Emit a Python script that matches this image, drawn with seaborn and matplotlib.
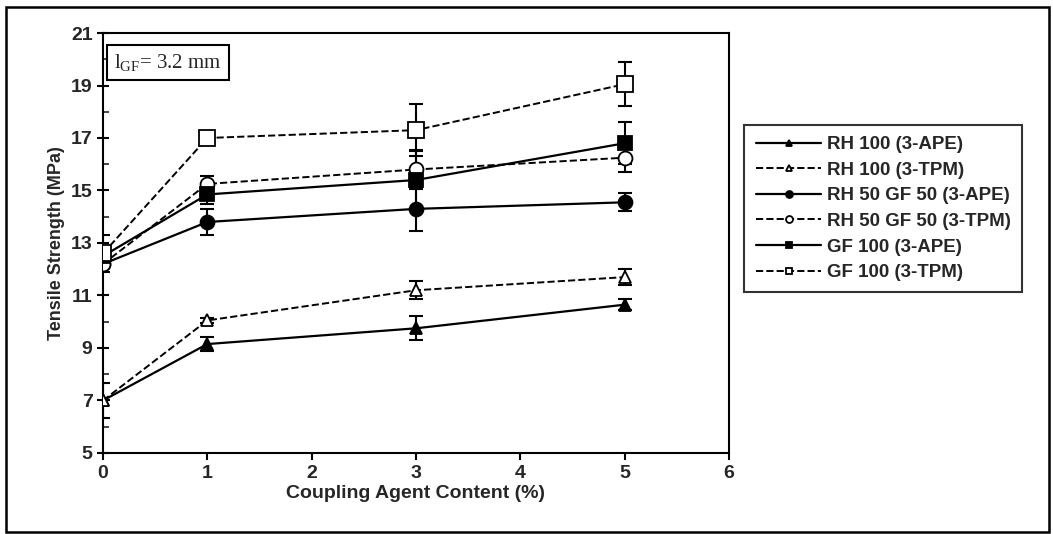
import numpy as np
import pandas as pd
import seaborn as sns
import matplotlib.pyplot as plt
from matplotlib.patches import Rectangle
from matplotlib.ticker import MultipleLocator

sns.set_style("ticks")
plt.rcParams['font.family'] = ['Liberation Sans', 'DejaVu Sans']

content = [0, 1, 3, 5]

rh100_ape = [7.0, 9.15, 9.75, 10.65]
rh100_ape_err = [0.65, 0.25, 0.45, 0.2]
rh100_tpm = [7.0, 10.05, 11.2, 11.7]
rh100_tpm_err = [0.0, 0.1, 0.35, 0.3]
rh50_ape = [12.2, 13.8, 14.3, 14.55]
rh50_ape_err = [0.0, 0.5, 0.85, 0.35]
rh50_tpm = [12.2, 15.25, 15.8, 16.25]
rh50_tpm_err = [0.0, 0.3, 0.75, 0.55]
gf100_ape = [12.5, 14.85, 15.4, 16.8]
gf100_ape_err = [0.0, 0.35, 1.1, 0.8]
gf100_tpm = [12.6, 17.0, 17.3, 19.05]
gf100_tpm_err = [0.7, 0.0, 1.0, 0.85]

labels = ["RH 100 (3-APE)", "RH 100 (3-TPM)", "RH 50 GF 50 (3-APE)",
          "RH 50 GF 50 (3-TPM)", "GF 100 (3-APE)", "GF 100 (3-TPM)"]
values = [rh100_ape, rh100_tpm, rh50_ape, rh50_tpm, gf100_ape, gf100_tpm]
errors = [rh100_ape_err, rh100_tpm_err, rh50_ape_err, rh50_tpm_err, gf100_ape_err, gf100_tpm_err]
markers = ['^', '^', 'o', 'o', 's', 's']
faces = ['black', 'white', 'black', 'white', 'black', 'white']
sizes = [8, 9, 10, 10, 10, 11]

rows = []
for lab, vals in zip(labels, values):
    for c, v in zip(content, vals):
        rows.append({'Coupling Agent Content (%)': c, 'Tensile Strength (MPa)': v, 'series': lab})
df = pd.DataFrame(rows)

fig = plt.figure(figsize=(10.53, 5.34), dpi=100)
ax = fig.add_axes([0.0978, 0.1517, 0.5945, 0.7865])

# error bars first, then lines/markers on top
for vals, errs in zip(values, errors):
    ax.errorbar(content, vals, yerr=errs, fmt='none', ecolor='black',
                elinewidth=1.5, capsize=5, capthick=1.5, zorder=2)

for i, lab in enumerate(labels):
    sub = df[df['series'] == lab]
    dashed = 'TPM' in lab
    sns.lineplot(data=sub, x='Coupling Agent Content (%)', y='Tensile Strength (MPa)',
                 ax=ax, color='black', marker=markers[i], markersize=sizes[i],
                 markerfacecolor=faces[i], markeredgecolor='black', markeredgewidth=1.3,
                 linewidth=1.6 if not dashed else 1.4,
                 linestyle='--' if dashed else '-', dashes=False if not dashed else (3, 1.5),
                 label=lab, legend=False, zorder=3)

ax.set_xlim(0, 6)
ax.set_ylim(5, 21)
ax.set_xticks(range(0, 7))
ax.set_yticks(range(5, 22, 2))
ax.yaxis.set_minor_locator(MultipleLocator(1))
ax.tick_params(axis='both', labelsize=14, width=1.5, length=5, color='black')
ax.tick_params(axis='y', which='major', direction='inout', length=8)
ax.tick_params(axis='y', which='minor', direction='in', length=4, width=1.2)
for t in ax.get_xticklabels() + ax.get_yticklabels():
    t.set_fontweight('bold')
ax.set_xlabel('Coupling Agent Content (%)', fontsize=14, fontweight='bold', labelpad=2)
ax.set_ylabel('Tensile Strength (MPa)', fontsize=13, fontweight='bold', labelpad=4)
for sp in ax.spines.values():
    sp.set_linewidth(1.5)
    sp.set_color('black')

ax.text(0.018, 0.955, r'$\mathregular{l_{GF}}$= 3.2 mm', transform=ax.transAxes,
        fontsize=15, family='Liberation Serif', va='top', ha='left',
        bbox=dict(boxstyle='square,pad=0.35', facecolor='white', edgecolor='black', linewidth=1.5))

handles, labs = ax.get_legend_handles_labels()
leg = fig.legend(handles, labs, loc='upper left', bbox_to_anchor=(0.707, 0.766),
                 frameon=True, fancybox=False, edgecolor='black', fontsize=13.5,
                 handlelength=3.5, labelspacing=0.45, borderpad=0.6, handletextpad=0.3,
                 borderaxespad=0)
leg.get_frame().set_linewidth(1.5)
for t in leg.get_texts():
    t.set_fontweight('bold')
for h in leg.legend_handles:
    h.set_markersize(5)

fig.patches.append(Rectangle((0.006, 0.004), 0.99, 0.982, transform=fig.transFigure,
                             fill=False, edgecolor='black', linewidth=1.8))

fig.savefig('out.png', dpi=100)
